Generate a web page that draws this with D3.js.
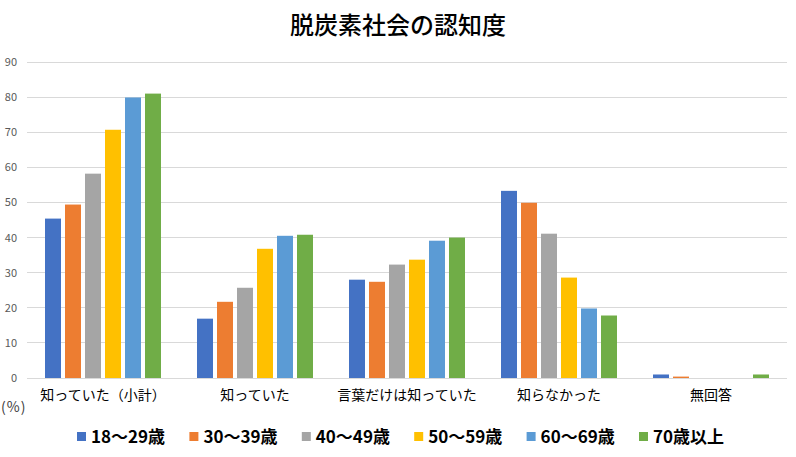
<!DOCTYPE html>
<html><head><meta charset="utf-8">
<script src="https://cdn.jsdelivr.net/npm/d3@7"></script>
<style>body{margin:0;background:#fff}svg{display:block}</style>
</head><body>
<svg id="c" width="796" height="457"></svg>
<script>
const categories = ["知っていた（小計）","知っていた","言葉だけは知っていた","知らなかった","無回答"];
const seriesNames = ["18〜29歳","30〜39歳","40〜49歳","50〜59歳","60〜69歳","70歳以上"];
const colors = ["#4472C4","#ED7D31","#A5A5A5","#FFC000","#5B9BD5","#70AD47"];
const s18 = [45.4, 16.9, 28.0, 53.3, 1.0];
const s30 = [49.4, 21.7, 27.4, 49.9, 0.4];
const s40 = [58.2, 25.7, 32.3, 41.1, 0.0];
const s50 = [70.7, 36.8, 33.7, 28.6, 0.0];
const s60 = [79.9, 40.5, 39.1, 19.8, 0.0];
const s70 = [81.0, 40.8, 40.0, 17.8, 1.0];
const seriesValues = [s18, s30, s40, s50, s60, s70];
const yTicks = [0,10,20,30,40,50,60,70,80,90];

const font = "'Noto Sans CJK JP','Noto Sans',sans-serif";
const svg = d3.select("#c");
const mLeft = 27, mRight = 787, mTop = 62, mBottom = 378;

const x0 = d3.scaleBand().domain(categories).range([mLeft, mRight]);
const x1 = d3.scaleBand().domain(seriesNames).range([0, x0.bandwidth()]).paddingInner(0.2).paddingOuter(0.9);
const y = d3.scaleLinear().domain([0, 90]).range([mBottom, mTop]);

svg.append("text").attr("x", 398).attr("y", 34).attr("text-anchor","middle")
  .attr("font-family", font).attr("font-size", 24).attr("font-weight", 500).attr("fill","#000")
  .text("脱炭素社会の認知度");

// grid
svg.append("g").selectAll("line").data(yTicks).join("line")
  .attr("x1", mLeft).attr("x2", mRight).attr("y1", d=>y(d)).attr("y2", d=>y(d))
  .attr("stroke", "#d9d9d9").attr("stroke-width", 1).attr("shape-rendering","crispEdges");

// y axis labels
const yAxis = d3.axisLeft(y).tickValues(yTicks).tickSize(0).tickPadding(0);
const ya = svg.append("g").attr("transform", `translate(${mLeft-10},0)`).call(yAxis);
ya.select(".domain").remove();
ya.selectAll("text").attr("font-family", font).attr("font-size", 11).attr("fill", "#595959");

// bars
const groups = svg.append("g").selectAll("g").data(categories).join("g")
  .attr("transform", d => `translate(${x0(d)},0)`);
groups.selectAll("rect").data((c, ci) => seriesNames.map((s, si) => ({s, si, v: seriesValues[si][ci]})))
  .join("rect")
  .attr("x", d => x1(d.s)).attr("width", x1.bandwidth())
  .attr("y", d => y(d.v)).attr("height", d => y(0) - y(d.v))
  .attr("fill", d => colors[d.si]);

// x axis labels
const xAxis = d3.axisBottom(x0).tickSize(0).tickPadding(0);
const xa = svg.append("g").attr("transform", `translate(0,${mBottom+9})`).call(xAxis);
xa.select(".domain").remove();
xa.selectAll("text").attr("font-family", font).attr("font-size", 14).attr("fill", "#000").attr("dy", "0.9em");

svg.append("text").attr("x", 1).attr("y", 412).attr("font-family", font).attr("font-size", 14)
  .attr("letter-spacing", 1).attr("fill","#404040").text("(%)");

// legend
const lg = svg.append("g").selectAll("g").data(seriesNames).join("g")
  .attr("transform", (d,i) => `translate(${77 + i*112.4},437)`);
lg.append("rect").attr("x", 0).attr("y", -5).attr("width", 9).attr("height", 9).attr("fill", (d,i)=>colors[i]);
lg.append("text").attr("x", 14).attr("y", 0).attr("dy","0.35em").attr("font-family", font)
  .attr("font-size", 17).attr("font-weight", 700).attr("fill","#000").text(d=>d);
</script>
</body></html>
